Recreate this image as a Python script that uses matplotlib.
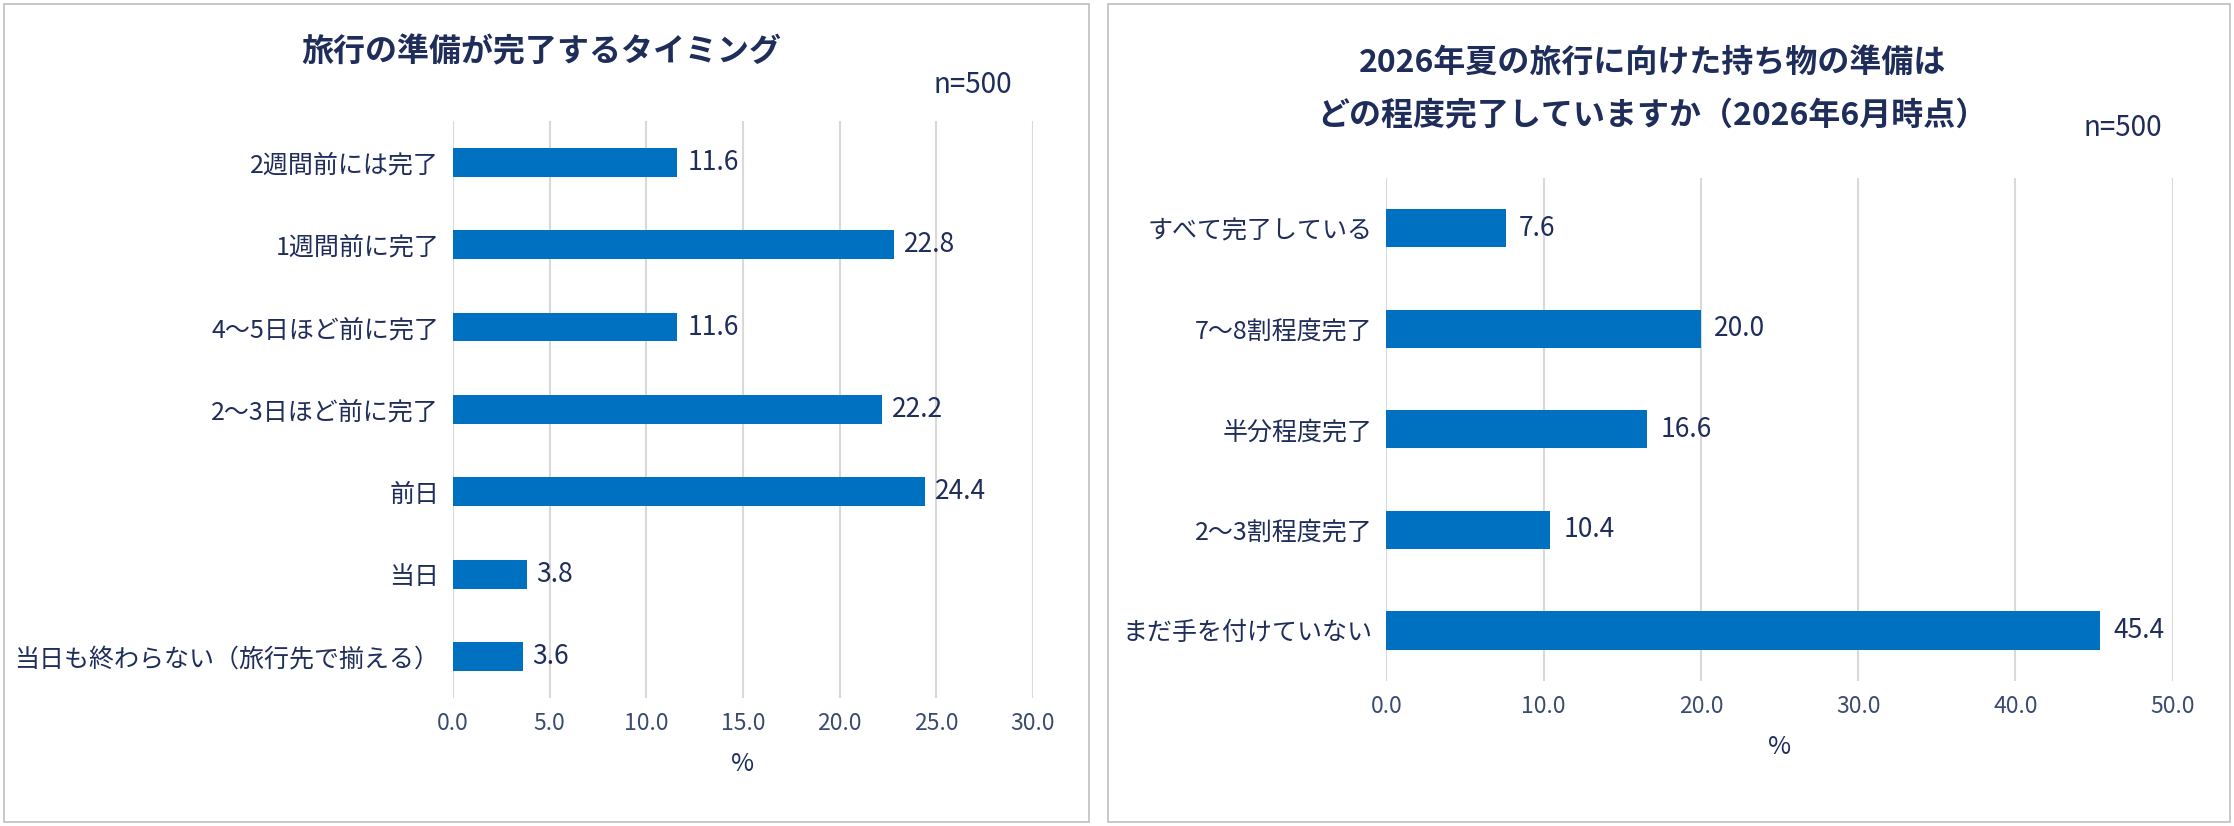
import matplotlib
matplotlib.use("Agg")
import matplotlib.pyplot as plt
from matplotlib.patches import Rectangle

plt.rcParams['font.family'] = ['Noto Sans CJK JP', 'DejaVu Sans']

left_cats = ["2週間前には完了", "1週間前に完了", "4～5日ほど前に完了", "2～3日ほど前に完了", "前日", "当日", "当日も終わらない（旅行先で揃える）"]
left_vals = [11.6, 22.8, 11.6, 22.2, 24.4, 3.8, 3.6]
left_ticks = [0, 5, 10, 15, 20, 25, 30]
right_cats = ["すべて完了している", "7～8割程度完了", "半分程度完了", "2～3割程度完了", "まだ手を付けていない"]
right_vals = [7.6, 20.0, 16.6, 10.4, 45.4]
right_ticks = [0, 10, 20, 30, 40, 50]

BAR = "#0070C0"
TXT = "#1F2D5A"
W, H = 1568, 580

fig = plt.figure(figsize=(22.34, 8.26), dpi=100)
for x0, x1 in [(3, 764), (778, 1565)]:
    fig.patches.append(Rectangle((x0 / W, 3 / H), (x1 - x0) / W, (H - 6) / H, transform=fig.transFigure,
                                 fill=False, edgecolor="#BFBFBF", linewidth=1.2))

def panel(rect, cats, vals, ticks, xmax, bh):
    ax = fig.add_axes(rect)
    y = list(range(len(cats)))
    ax.barh(y, vals, height=bh, color=BAR)
    for yi, v in zip(y, vals):
        ax.text(v + xmax * 0.017, yi, f"{v:.1f}", va="center", ha="left", fontsize=19, color=TXT)
    ax.set_yticks(y)
    ax.set_yticklabels(cats, fontsize=18, color=TXT)
    ax.set_ylim(len(cats) - 0.5, -0.5)
    ax.set_xlim(0, xmax)
    ax.set_xticks(ticks)
    ax.set_xticklabels([f"{t:.1f}" for t in ticks], fontsize=16.5, color="#3A4A70")
    ax.grid(axis="x", color="#D9D9D9", linewidth=1.5)
    ax.set_axisbelow(True)
    for s in ax.spines.values():
        s.set_visible(False)
    ax.tick_params(length=0, pad=10)
    ax.set_xlabel("%", fontsize=18, color=TXT, labelpad=12)
    return ax

panel([318 / W, 1 - 490 / H, 407 / W, 405 / H], left_cats, left_vals, left_ticks, 30, 0.35)
panel([973 / W, 1 - 478 / H, 552 / W, 353 / H], right_cats, right_vals, right_ticks, 50, 0.38)

fig.text(380 / W, 1 - 37 / H, "旅行の準備が完了するタイミング", ha="center", va="center", fontsize=23, fontweight="bold", color=TXT)
fig.text(683 / W, 1 - 60 / H, "n=500", ha="center", va="center", fontsize=20, color=TXT)
fig.text(1160 / W, 1 - 44 / H, "2026年夏の旅行に向けた持ち物の準備は", ha="center", va="center", fontsize=23, fontweight="bold", color=TXT)
fig.text(1160 / W, 1 - 82 / H, "どの程度完了していますか（2026年6月時点）", ha="center", va="center", fontsize=23, fontweight="bold", color=TXT)
fig.text(1490 / W, 1 - 90 / H, "n=500", ha="center", va="center", fontsize=20, color=TXT)

fig.savefig("out.png", dpi=100, facecolor="white")
